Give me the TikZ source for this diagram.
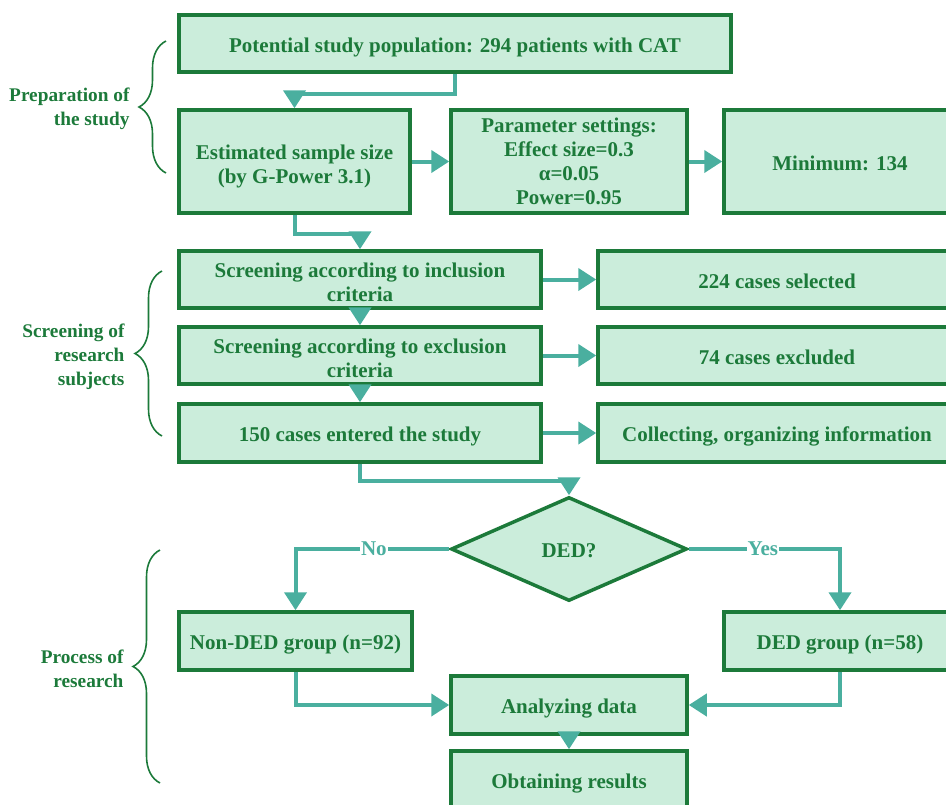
\documentclass[tikz,border=0pt]{standalone}
\usepackage{fontspec}
\setmainfont{Liberation Serif}
\usetikzlibrary{arrows.meta,shapes.geometric,decorations.pathreplacing}
\definecolor{dgreen}{HTML}{1C7A3A}
\definecolor{boxfill}{HTML}{CBEDDB}
\definecolor{teal2}{HTML}{4AAF9F}
\tikzset{
  box/.style={draw=dgreen, fill=boxfill, line width=3.5pt, inner sep=0pt, align=center,
    text=dgreen, font=\fontsize{21}{24}\selectfont\bfseries},
  oneline/.style={text height=17pt, text depth=0pt},
  twoline/.style={text height=44pt, text depth=0pt},
  arr/.style={draw=teal2, line width=4pt, -{Triangle[width=22pt,length=18pt]}},
  brc/.style={draw=dgreen, line width=1.6pt, decorate, decoration={brace, amplitude=27pt, aspect=0.5}},
  side/.style={text=dgreen, align=right, anchor=east, font=\fontsize{19.3}{24}\selectfont\bfseries},
  yn/.style={fill=white, text=teal2, inner sep=1pt, font=\fontsize{21}{24}\selectfont\bfseries}
}
\begin{document}
\begin{tikzpicture}[x=1pt, y=-1pt]
\useasboundingbox (0,0) rectangle (946,804);
\clip (0,0) rectangle (946,804);
% boxes
\node[box, oneline, minimum width=552, minimum height=57] (top) at (455,43.5) {Potential study population: 294 patients with CAT};
\node[box, twoline, minimum width=231, minimum height=103] (est) at (294.5,161.5) {Estimated sample size\\(by G-Power 3.1)};
\node[box, minimum width=236, minimum height=103] (param) at (569,161.5) {Parameter settings:\\Effect size=0.3\\α=0.05\\Power=0.95};
\node[box, oneline, minimum width=232, minimum height=103] (minn) at (840,161.5) {Minimum: 134};
\node[box, twoline, minimum width=362, minimum height=57] (incl) at (360,279.5) {Screening according to inclusion\\criteria};
\node[box, twoline, minimum width=362, minimum height=57] (excl) at (360,355.5) {Screening according to exclusion\\criteria};
\node[box, oneline, minimum width=362, minimum height=58] (entered) at (360,433) {150 cases entered the study};
\node[box, oneline, minimum width=358, minimum height=57] (sel) at (777,279.5) {224 cases selected};
\node[box, oneline, minimum width=358, minimum height=57] (exc) at (777,355.5) {74 cases excluded};
\node[box, oneline, minimum width=358, minimum height=58] (coll) at (777,433) {Collecting, organizing information};
\node[box, oneline, diamond, minimum width=236, minimum height=104] (dia) at (569,549) {DED?};
\node[box, oneline, minimum width=233, minimum height=58] (non) at (295.5,641) {Non-DED group (n=92)};
\node[box, oneline, minimum width=232, minimum height=58] (ded) at (840,641) {DED group (n=58)};
\node[box, oneline, minimum width=236, minimum height=58] (anal) at (569,705) {Analyzing data};
\node[box, oneline, minimum width=236, minimum height=57] (obt) at (569,779.5) {Obtaining results};
% connectors
\draw[arr] (top.south) -- ++(0,20) -| (est.north);
\draw[arr] (est.east) -- (param.west);
\draw[arr] (param.east) -- (minn.west);
\draw[arr] (est.south) -- ++(0,19) -| (incl.north);
\draw[arr] (incl.south) -- (excl.north);
\draw[arr] (excl.south) -- (entered.north);
\draw[arr] (incl.east) -- (sel.west);
\draw[arr] (excl.east) -- (exc.west);
\draw[arr] (entered.east) -- (coll.west);
\draw[arr] (entered.south) -- ++(0,17) -| (dia.north);
\draw[arr] (dia.west) -| (non.north) node[yn, pos=0.245] {No};
\draw[arr] (dia.east) -| (ded.north) node[yn, pos=0.245] {Yes};
\draw[arr] (non.south) |- (anal.west);
\draw[arr] (ded.south) |- (anal.east);
\draw[arr] (anal.south) -- (obt.north);
% braces
\coordinate (b1s) at (166,173); \coordinate (b1e) at (166,41);
\coordinate (b2s) at (162,436); \coordinate (b2e) at (162,271);
\coordinate (b3s) at (160,783); \coordinate (b3e) at (160,550);
\draw[brc] (b1s) -- (b1e);
\draw[brc] (b2s) -- (b2e);
\draw[brc] (b3s) -- (b3e);
\node[side] (l1) at (133,109) {Preparation of\\the study};
\node[side] (l2) at (128,357) {Screening of\\research\\subjects};
\node[side] (l3) at (127,669) {Process of\\research};
\end{tikzpicture}
\end{document}
